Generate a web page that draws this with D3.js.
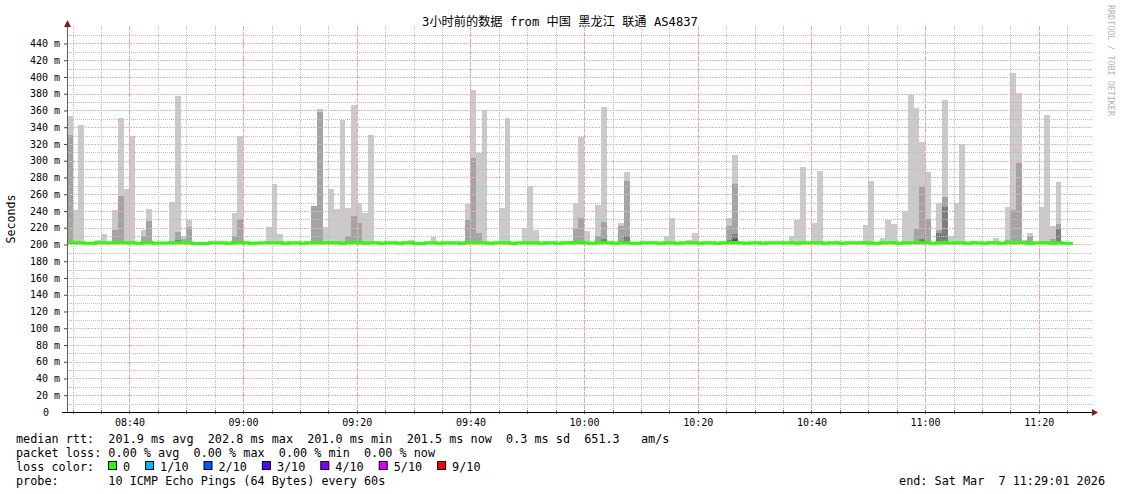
<!DOCTYPE html>
<html lang="zh">
<head>
<meta charset="utf-8">
<script src="https://d3js.org/d3.v7.min.js"></script>
<style>
  body { margin: 0; background: #fff; }
  svg { display: block; }
  text { font-family: "DejaVu Sans Mono", "Noto Sans CJK SC", monospace; fill: #000; }
</style>
</head>
<body>
<script>
// time range of the graph
var start = new Date(2026, 2, 7, 8, 29, 1),
    end = new Date(2026, 2, 7, 11, 29, 1),
    firstMinute = new Date(2026, 2, 7, 8, 29, 0);

// smoke, one value per minute (ms); 0 = nothing above the median
// outer band (max ping)
var smokeTop = [
  353,241.5,343,203,0,205.6,212.8,0,241.5,351,266.6,329,0,217.6,242.7,203,0,0,251,377,
  209.6,229.5,0,0,0,0,0,0,0,238,329,0,0,0,0,221,272.6,212.8,0,0,
  0,0,0,246.3,361.8,220.4,266.6,242.7,348.3,243.9,367,249.8,238,331,203,0,0,0,0,0,
  205.6,0,203,203,208.4,0,0,0,0,0,248.6,385,308.8,361,0,202,243.9,351.5,0,0,
  220,269.4,217.6,0,0,0,0,0,204,249.8,328.8,216.4,0,247.4,364.6,0,0,225.6,286.9,0,
  0,0,0,0,0,210.4,232,0,0,205.6,214,0,0,202,0,0,232,307.2,0,0,
  0,0,0,0,0,203,203,210.4,229.5,292.9,0,226,288.1,0,0,204.4,0,0,0,0,
  223.6,276.1,0,208,229.5,224.8,0,240.3,379,363.4,322.8,286.9,0,249.8,373,210.4,249.8,320.4,0,204,
  0,0,204.4,208,0,245.1,405.3,381.4,205,214,0,245.1,355.1,222.4,275,203,0
];
// second band (9th ping)
var smoke2 = [
  331,0,0,0,0,0,0,0,217.6,257.4,0,0,0,209.6,228.3,0,0,0,204,215,
  206.8,221.2,0,0,0,0,0,0,0,210.4,230.7,0,0,0,0,0,0,0,0,0,
  0,0,0,245.5,358.6,0,0,0,0,209.6,234.3,225.6,0,0,0,0,0,0,0,0,
  0,0,0,0,0,0,0,0,0,0,229.5,303.6,214,0,0,0,0,0,0,0,
  0,0,0,0,0,0,0,0,0,220,232,0,0,209.6,227,0,0,222.4,276.1,0,
  0,0,0,0,0,0,0,0,0,0,0,0,0,0,0,0,222.4,272.6,0,0,
  0,0,0,0,0,0,0,0,0,0,0,0,0,0,0,0,0,0,0,0,
  0,0,0,0,0,0,0,0,0,218.8,269,230.7,0,217.6,257,0,0,0,0,0,
  0,0,0,0,0,205,241.5,297.7,0,209.6,0,0,0,206.8,224.8,0,0
];
// third and fourth bands, only where visible
var smoke3Minutes = [19, 51, 94, 97, 98, 116, 117, 150, 153, 154, 174];
var smoke3Values  = [205, 202, 206.8, 204, 210.4, 205, 212.8, 206, 214, 245.1, 218.8];
var smoke4Minutes = [117];
var smoke4Values  = [207];

// median rtt per minute (ms)
var median = [
  202.2,202.2,202.2,201.6,201.6,202.0,202.0,202.0,202.2,202.2,202.2,202.2,201.6,201.8,202.3,201.6,201.8,201.8,202.0,202.0,
  202.2,202.0,201.2,201.2,201.2,202.0,202.0,202.0,201.4,202.0,202.4,202.0,201.4,201.8,202.0,202.0,202.2,202.0,201.6,202.0,
  202.0,201.6,202.0,202.2,202.0,202.2,202.0,202.0,201.6,202.2,202.0,202.4,201.6,202.0,202.0,201.4,202.0,202.0,201.6,202.0,
  202.0,201.4,201.2,202.0,202.2,201.4,202.2,202.2,202.2,201.6,202.0,202.0,202.2,202.0,201.6,202.0,202.0,202.0,201.2,202.0,
  202.2,201.8,202.0,201.4,202.0,202.0,201.6,202.0,202.0,202.0,202.6,201.8,201.4,202.0,202.4,202.0,201.6,202.2,202.2,201.6,
  201.6,202.0,202.0,202.0,201.4,202.2,202.0,201.6,202.0,202.0,202.2,201.4,202.0,202.0,201.6,202.0,202.2,202.4,202.0,201.4,
  202.0,202.0,201.6,202.0,202.2,202.2,202.0,202.0,201.6,202.0,202.0,202.2,202.0,201.6,202.0,202.0,201.4,202.2,202.0,202.0,
  202.2,201.6,201.6,202.2,202.0,202.0,201.4,202.0,202.2,202.2,202.2,202.0,201.6,202.0,202.6,201.8,202.0,202.0,201.6,202.0,
  202.2,201.6,202.0,202.0,201.6,202.0,202.2,202.2,202.0,201.6,202.0,202.0,202.2,201.4,202.0,201.6,201.4
];
var smokeBottom = 200.8;

var yTicks = d3.range(0, 441, 20);
var lossLabels = ["0", "1/10", "2/10", "3/10", "4/10", "5/10", "9/10"];
var lossColors = ["#26ff00", "#00b8ff", "#0059ff", "#5e00ff", "#7e00ff", "#dd00ff", "#ff0000"];

var titleText = "3小时前的数据 from 中国 黑龙江 联通 AS4837";
var legendLines = [
  "median rtt:  201.9 ms avg  202.8 ms max  201.0 ms min  201.5 ms now  0.3 ms sd  651.3   am/s",
  "packet loss: 0.00 % avg  0.00 % max  0.00 % min  0.00 % now",
  "loss color:",
  "probe:       10 ICMP Echo Pings (64 Bytes) every 60s"
];
var endText = "end: Sat Mar  7 11:29:01 2026";

var left = 67, right = 1090, bottom = 412;

var svg = d3.select("body").append("svg")
    .attr("width", 1121)
    .attr("height", 494);

var x = d3.scaleTime().domain([start, end]).range([left, right]);
var y = d3.scaleLinear().domain([0, 460]).range([bottom, 26.7]);

function minute(i) { return new Date(firstMinute.getTime() + i * 60000); }
function colLeft(i) { return Math.max(left, Math.round(x(minute(i)))); }
function colRight(i) { return Math.round(x(minute(i + 1))); }

// build the sparse bands into full arrays
var smoke3 = smokeTop.map(function() { return 0; });
smoke3Minutes.forEach(function(m, i) { smoke3[m] = smoke3Values[i]; });
var smoke4 = smokeTop.map(function() { return 0; });
smoke4Minutes.forEach(function(m, i) { smoke4[m] = smoke4Values[i]; });

var bands = [
  {tops: smokeTop, color: "#cacaca"},
  {tops: smoke2, color: "#a4a4a4"},
  {tops: smoke3, color: "#7e7e7e"},
  {tops: smoke4, color: "#585858"}
];

// smoke
var smokeG = svg.append("g").attr("shape-rendering", "crispEdges");
bands.forEach(function(b) {
  var cols = b.tops.map(function(v, i) { return {i: i, v: v}; })
                   .filter(function(d) { return d.v > 0; });
  smokeG.selectAll(null)
    .data(cols)
    .enter()
    .append("rect")
    .attr("x", function(d) { return colLeft(d.i); })
    .attr("width", function(d) { return colRight(d.i) - colLeft(d.i); })
    .attr("y", function(d) { return Math.round(y(d.v)); })
    .attr("height", function(d) { return Math.round(y(smokeBottom)) - Math.round(y(d.v)); })
    .attr("fill", b.color);
});

// grid
var grid = svg.append("g").attr("shape-rendering", "crispEdges");
var minor5 = d3.timeMinute.every(5).range(start, end);
var major20 = d3.timeMinute.every(20).range(start, end);
var hMinor = d3.range(10, 451, 20);
var hMajor = yTicks.filter(function(d) { return d > 0; });

grid.selectAll(null).data(minor5).enter().append("line")
    .attr("x1", function(d) { return Math.round(x(d)) + 0.5; })
    .attr("x2", function(d) { return Math.round(x(d)) + 0.5; })
    .attr("y1", 26).attr("y2", bottom)
    .attr("stroke", "#bdbdbd")
    .attr("stroke-dasharray", "1,1");

grid.selectAll(null).data(hMinor).enter().append("line")
    .attr("x1", left).attr("x2", 1092)
    .attr("y1", function(d) { return Math.round(y(d)) + 0.5; })
    .attr("y2", function(d) { return Math.round(y(d)) + 0.5; })
    .attr("stroke", "#bdbdbd")
    .attr("stroke-dasharray", "1,1");

grid.selectAll(null).data(major20).enter().append("line")
    .attr("x1", function(d) { return Math.round(x(d)) + 0.5; })
    .attr("x2", function(d) { return Math.round(x(d)) + 0.5; })
    .attr("y1", 26).attr("y2", bottom)
    .attr("stroke", "#f2a6a6")
    .attr("stroke-dasharray", "2,1");

grid.selectAll(null).data(hMajor).enter().append("line")
    .attr("x1", left).attr("x2", 1092)
    .attr("y1", function(d) { return Math.round(y(d)) + 0.5; })
    .attr("y2", function(d) { return Math.round(y(d)) + 0.5; })
    .attr("stroke", "#efb2b2")
    .attr("stroke-dasharray", "2,1");

// median line
var medPts = median.map(function(v, i) { return {i: i, v: v}; });
medPts.push({i: median.length, v: median[median.length - 1]});
var line = d3.line()
    .x(function(d) { return x(minute(d.i)); })
    .y(function(d) { return y(d.v); })
    .curve(d3.curveStepAfter);
svg.append("path")
    .datum(medPts)
    .attr("d", line)
    .attr("fill", "none")
    .attr("stroke", "#26ff00")
    .attr("stroke-width", 3);

// axes
var yAxis = svg.append("g")
    .attr("transform", "translate(" + left + ",0)")
    .call(d3.axisLeft(y).tickValues(yTicks).tickSize(3).tickPadding(4)
        .tickFormat(function(d) { return d === 0 ? "0" : d + " m"; }));
yAxis.select(".domain").remove();
yAxis.selectAll(".tick line").attr("stroke", "#444");
yAxis.selectAll(".tick text")
    .style("font-size", "10px")
    .attr("dx", function(d) { return d === 0 ? -11 : 0; });

var xAxis = svg.append("g")
    .attr("transform", "translate(0," + bottom + ")")
    .call(d3.axisBottom(x).ticks(d3.timeMinute.every(20))
        .tickFormat(d3.timeFormat("%H:%M")).tickSize(0).tickPadding(7));
xAxis.select(".domain").remove();
xAxis.selectAll(".tick text").style("font-size", "10px");

// small ticks on the time axis
svg.append("g").attr("shape-rendering", "crispEdges")
    .selectAll("line").data(minor5).enter().append("line")
    .attr("x1", function(d) { return Math.round(x(d)) + 0.5; })
    .attr("x2", function(d) { return Math.round(x(d)) + 0.5; })
    .attr("y1", bottom - 2).attr("y2", bottom + 2)
    .attr("stroke", "#666");

// axis lines and arrows
svg.append("line").attr("x1", left + 0.5).attr("x2", left + 0.5)
    .attr("y1", bottom).attr("y2", 24).attr("stroke", "#606060");
svg.append("line").attr("x1", 62).attr("x2", 1094)
    .attr("y1", bottom + 0.5).attr("y2", bottom + 0.5).attr("stroke", "#000");
svg.append("path").attr("d", "M64,27L71,27L67.5,20Z").attr("fill", "#8b1a1a");
svg.append("path").attr("d", "M1092,409L1092,416L1098,412.5Z").attr("fill", "#8b1a1a");

// title
svg.append("text")
    .attr("x", 560).attr("y", 26)
    .attr("text-anchor", "middle")
    .style("font-size", "12.2px")
    .text(titleText);

// y title
svg.append("text")
    .attr("transform", "translate(15,219) rotate(-90)")
    .attr("text-anchor", "middle")
    .style("font-size", "11.6px")
    .text("Seconds");

// watermark
svg.append("text")
    .attr("transform", "translate(1108,5) rotate(90)")
    .style("font-size", "8.4px")
    .style("fill", "#b4b4b4")
    .text("RRDTOOL / TOBI OETIKER");

// legend
var legendY = [443, 457, 471, 485];
svg.selectAll(".leg").data(legendLines).enter().append("text")
    .attr("x", 16)
    .attr("y", function(d, i) { return legendY[i]; })
    .style("font-size", "11.8px")
    .style("white-space", "pre")
    .text(function(d) { return d; });

var charW = 7.1, bx = 108;
lossLabels.forEach(function(lab, i) {
  svg.append("rect")
      .attr("x", bx + 0.5).attr("y", 461.5)
      .attr("width", 8).attr("height", 8)
      .attr("fill", lossColors[i])
      .attr("stroke", "#000");
  svg.append("text")
      .attr("x", bx + 15).attr("y", 471)
      .style("font-size", "11.8px")
      .text(lab);
  bx = bx + 15 + lab.length * charW + 15;
});

svg.append("text")
    .attr("x", 1105).attr("y", 485)
    .attr("text-anchor", "end")
    .style("font-size", "11.8px")
    .style("white-space", "pre")
    .text(endText);
</script>
</body>
</html>
